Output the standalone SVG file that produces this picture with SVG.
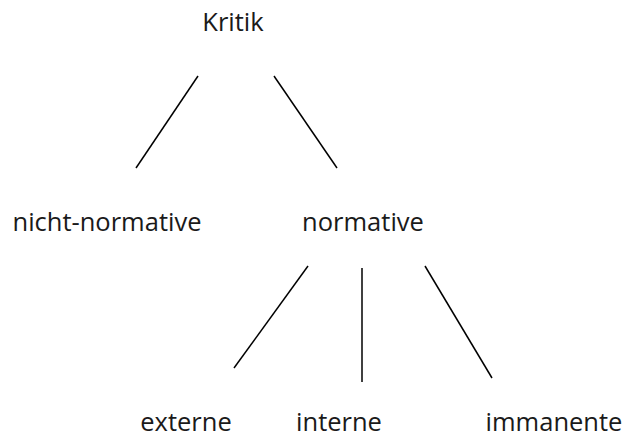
<svg xmlns="http://www.w3.org/2000/svg" width="623" height="436" viewBox="0 0 623 436">
<style>
text{font-family:"Open Sans","Noto Sans",sans-serif;font-size:25.5px;fill:#1a1a1a}
.c line{stroke:#000;stroke-width:1.5}
</style>
<rect width="623" height="436" fill="#fff"/>
<g id="kritik"><text x="233" y="31" text-anchor="middle">Kritik</text></g>
<g id="nicht-normative"><text x="107" y="231" text-anchor="middle">nicht-normative</text></g>
<g id="normative"><text x="363" y="231" text-anchor="middle">normative</text></g>
<g id="externe"><text x="186" y="431" text-anchor="middle">externe</text></g>
<g id="interne"><text x="339" y="431" text-anchor="middle">interne</text></g>
<g id="immanente"><text x="554" y="431" text-anchor="middle">immanente</text></g>
<g class="c" id="connectors">
<line x1="198" y1="76" x2="136" y2="168"/>
<line x1="274" y1="76" x2="337" y2="168"/>
<line x1="308" y1="266" x2="234" y2="368"/>
<line x1="362" y1="268" x2="362" y2="382"/>
<line x1="425" y1="266" x2="492" y2="378"/>
</g>
</svg>
